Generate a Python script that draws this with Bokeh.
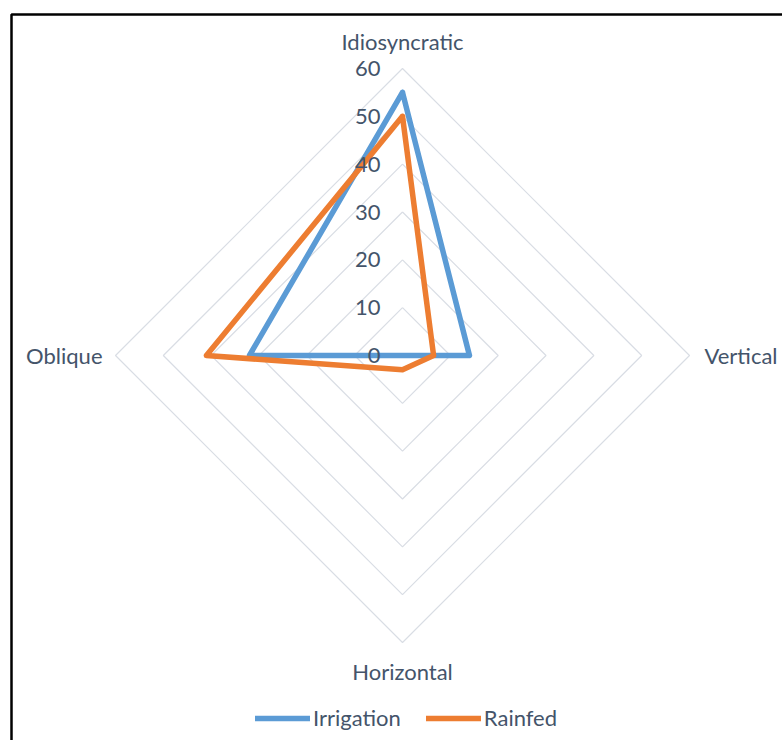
import numpy as np
from bokeh.plotting import figure
from bokeh.models import Range1d, Legend, LegendItem, BoxAnnotation
from bokeh.core.properties import value
from bokeh.embed import file_html
from bokeh.resources import INLINE

categories = ["Idiosyncratic", "Vertical", "Horizontal", "Oblique"]
irrigation = [55, 14, 0, 32]
rainfed = [50, 6.5, 3, 41]
ticks = [0, 10, 20, 30, 40, 50, 60]

W, H = 782, 740
CX, CY = 402, 355
RMAX = 60
S = 287 / RMAX  # px per unit

FONT = "Lato"
FS = "22px"
TXT = "#44546A"
GRID = "#D9DDE4"

p = figure(width=W, height=H, output_backend="svg", toolbar_location=None,
           x_range=Range1d(-CX / S, (W - CX) / S),
           y_range=Range1d(-(H - CY) / S, CY / S),
           min_border=0)
p.axis.visible = False
p.grid.visible = False
p.outline_line_color = None
p.background_fill_color = "white"
p.border_fill_color = "white"

angles = np.deg2rad([90, 0, -90, 180])

def polar(vals):
    v = np.asarray(vals, dtype=float)
    xs = v * np.cos(angles)
    ys = v * np.sin(angles)
    return list(xs) + [xs[0]], list(ys) + [ys[0]]

# grid diamonds
for t in ticks[1:]:
    gx, gy = polar([t] * 4)
    p.line(gx, gy, line_color=GRID, line_width=1.2)

# series
bx, by = polar(irrigation)
ox, oy = polar(rainfed)
r1 = p.line(bx, by, line_color="#5B9BD5", line_width=5.5, line_join="round", line_cap="round")
r2 = p.line(ox, oy, line_color="#ED7D31", line_width=5.5, line_join="round", line_cap="round")

# tick labels
p.text(x=[0] * len(ticks), y=ticks, text=[str(t) for t in ticks],
       x_offset=-22, text_align="right", text_baseline="middle",
       text_font=value(FONT), text_font_size=FS, text_color=TXT)

# category labels
lx, ly = polar([RMAX] * 4)
p.text(x=[lx[0]], y=[ly[0]], text=[categories[0]], y_offset=-27,
       text_align="center", text_baseline="middle",
       text_font=value(FONT), text_font_size=FS, text_color=TXT)
p.text(x=[lx[1]], y=[ly[1]], text=[categories[1]], x_offset=15,
       text_align="left", text_baseline="middle",
       text_font=value(FONT), text_font_size=FS, text_color=TXT)
p.text(x=[lx[2]], y=[ly[2]], text=[categories[2]], y_offset=29,
       text_align="center", text_baseline="middle",
       text_font=value(FONT), text_font_size=FS, text_color=TXT)
p.text(x=[lx[3]], y=[ly[3]], text=[categories[3]], x_offset=-13,
       text_align="right", text_baseline="middle",
       text_font=value(FONT), text_font_size=FS, text_color=TXT)

# frame border (image crop edge)
p.add_layout(BoxAnnotation(left=(11 - CX) / S, right=(W + 20 - CX) / S,
                           top=(CY - 14) / S, bottom=-(H + 20 - CY) / S,
                           fill_color=None, fill_alpha=0,
                           line_color="black", line_alpha=1.0, line_width=2.5))

legend = Legend(items=[LegendItem(label="Irrigation", renderers=[r1]),
                       LegendItem(label="Rainfed", renderers=[r2])],
                orientation="horizontal", location=(255, 9),
                padding=0, margin=0, spacing=25, label_standoff=3,
                glyph_width=55, glyph_height=20,
                label_text_font=FONT, label_text_font_size=FS,
                label_text_color=TXT, border_line_color=None,
                background_fill_alpha=0)
p.add_layout(legend, "center")

open("out.html", "w").write(file_html(p, INLINE))
